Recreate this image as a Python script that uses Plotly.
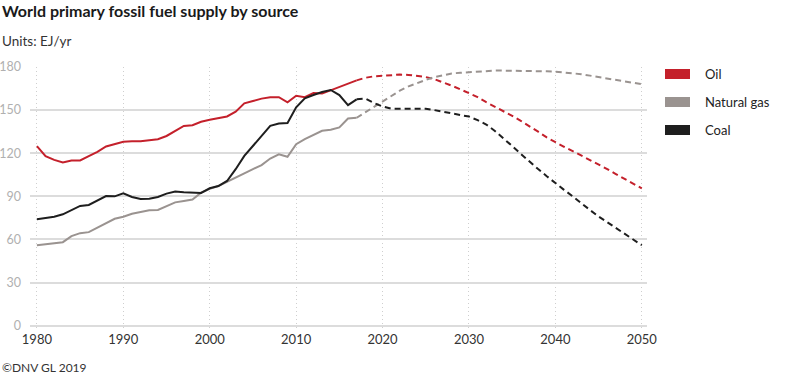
import plotly.graph_objects as go

# ---------------- data ----------------
hist_years = list(range(1980, 2018))
oil_hist = [125, 118, 115.4, 113.5, 115, 115, 118, 121, 124.7, 126.5,
            128, 128.3, 128.3, 129, 129.8, 132, 135.6, 139, 139.5, 141.9,
            143.3, 144.7, 145.6, 148.9, 154.7, 156.3, 158, 159, 159, 155.4,
            160, 159, 161.9, 161.5, 163.8, 165.6, 168.2, 170.7]
gas_hist = [56, 56.7, 57.2, 58.1, 62.3, 64.4, 65.1, 68.2, 71.2, 74.4,
            75.8, 77.9, 79.1, 80.3, 80.5, 83.3, 85.8, 86.8, 87.8, 92.6,
            95.2, 97.2, 100, 103, 106, 109, 111.7, 116.3, 119.3, 117.5,
            126.3, 129.8, 132.6, 135.6, 136.3, 138, 144.2, 144.7]
coal_hist = [74, 74.9, 75.8, 77.5, 80.5, 83.3, 84, 87.2, 90.2, 90,
             92.1, 89.6, 88.2, 88.4, 89.6, 91.9, 93.3, 92.8, 92.4, 92.4,
             95.6, 97.2, 100.7, 108.9, 118.1, 125.1, 132.1, 139.1, 140.7, 141,
             151.9, 158.2, 160.5, 162.6, 164, 160.5, 153.5, 157.5]

proj_years = list(range(2017, 2051))
oil_proj = [170.7, 172.5, 173.5, 174, 174.5, 174.7, 174.5, 174, 173, 171.5,
            169.5, 167, 164.5, 162, 159, 155.5, 152.5, 149.5, 146, 142.5,
            139, 135, 131, 127.5, 124.5, 121.5, 118.5, 115.5, 112.5, 109,
            105.5, 102, 98.5, 95.5]
gas_proj = [144.7, 148.5, 152.5, 156.5, 160, 163.5, 166.5, 169, 171, 173,
            174.5, 175.5, 176, 176.5, 177, 177.3, 177.5, 177.5, 177.5, 177.3,
            177.2, 177, 177, 176.8, 176.3, 175.7, 175, 174, 173, 172,
            171, 170, 169, 168]
coal_proj = [157.5, 158, 155, 152.5, 151, 151, 151.5, 151.5, 151, 150,
             149, 148, 147, 145.5, 143, 140, 135.5, 130.5, 125, 119.5,
             114, 109, 104, 99, 94.5, 90, 85, 80.5, 76, 72,
             68, 64, 60, 56]

series_names = ["Oil", "Natural gas", "Coal"]
series_colors = ["#C4202B", "#9A9390", "#1E1E1E"]
x_ticks = [1980, 1990, 2000, 2010, 2020, 2030, 2040, 2050]
y_ticks = [0, 30, 60, 90, 120, 150, 180]

# ---------------- figure ----------------
W, H = 800, 376
ML, MR, MT, MB = 30, 153, 67, 46
PW, PH = W - ML - MR, H - MT - MB

def px_x(px):
    return (px - ML) / PW

def px_y(py):
    return (H - MB - py) / PH

fig = go.Figure()
hist = [oil_hist, gas_hist, coal_hist]
proj = [oil_proj, gas_proj, coal_proj]
for name, col, h, p in zip(series_names, series_colors, hist, proj):
    fig.add_trace(go.Scatter(x=proj_years, y=p, mode="lines", name=name,
                             line=dict(color=col, width=2, dash="6px,4px"),
                             showlegend=False, hoverinfo="skip"))
for name, col, h, p in zip(series_names, series_colors, hist, proj):
    fig.add_trace(go.Scatter(x=hist_years, y=h, mode="lines", name=name,
                             line=dict(color=col, width=2),
                             showlegend=False))

FONT = "Lato, 'Open Sans', sans-serif"

fig.update_layout(
    width=W, height=H,
    margin=dict(l=ML, r=MR, t=MT, b=MB, pad=0, autoexpand=False),
    paper_bgcolor="white", plot_bgcolor="white",
    font=dict(family=FONT, color="#333333", size=13),
    showlegend=False,
    xaxis=dict(range=[1979.2, 2050.6], tickvals=x_ticks,
               ticktext=[str(v) for v in x_ticks], automargin=False,
               showgrid=True, gridcolor="#cfcfcf", griddash="1px,3px", gridwidth=1,
               zeroline=False, showline=False, ticks="",
               tickfont=dict(color="#333333", size=13, family=FONT)),
    yaxis=dict(range=[-3, 180], tickvals=y_ticks, automargin=False,
               showgrid=True, gridcolor="#dcdcdc", gridwidth=1.5,
               zeroline=False, showline=False, ticks="",
               ticklabelstandoff=8,
               tickfont=dict(color="#b0b0b0", size=12.5, family=FONT)),
)

annotations = [
    dict(text="<b>World primary fossil fuel supply by source</b>",
         xref="paper", yref="paper", x=px_x(0), y=px_y(10),
         xanchor="left", yanchor="middle", showarrow=False,
         font=dict(size=16, color="#1a1a1a", family=FONT)),
    dict(text="Units: EJ/yr",
         xref="paper", yref="paper", x=px_x(0), y=px_y(41),
         xanchor="left", yanchor="middle", showarrow=False,
         font=dict(size=13.5, color="#333333", family=FONT)),
    dict(text="©DNV GL 2019",
         xref="paper", yref="paper", x=px_x(0), y=px_y(367),
         xanchor="left", yanchor="middle", showarrow=False,
         font=dict(size=12, color="#333333", family=FONT)),
]
shapes = []
legend_y = [74, 102, 130]
for name, col, ly in zip(series_names, series_colors, legend_y):
    shapes.append(dict(type="rect", xref="paper", yref="paper",
                       x0=px_x(665), x1=px_x(690), y0=px_y(ly - 5), y1=px_y(ly + 5),
                       fillcolor=col, line=dict(width=0)))
    annotations.append(dict(text=name, xref="paper", yref="paper",
                            x=px_x(703), y=px_y(ly), xanchor="left", yanchor="middle",
                            showarrow=False,
                            font=dict(size=13, color="#222222", family=FONT)))

fig.update_layout(annotations=annotations, shapes=shapes)
fig.write_html("out.html", config={"displayModeBar": False},
               post_script="document.body.style.margin='0';document.body.style.padding='0';")
